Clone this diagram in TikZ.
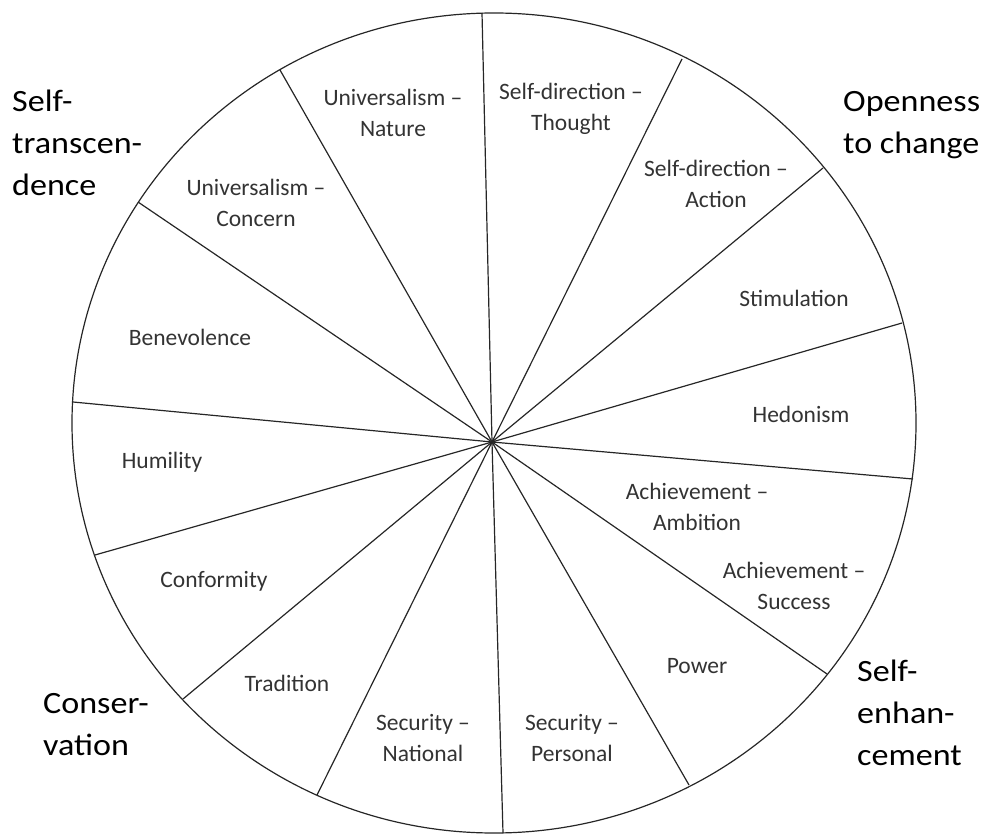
\documentclass[tikz,border=0pt]{standalone}
\usepackage{fontspec}
\setmainfont{Carlito}
\newfontfamily\groupfont[FakeStretch=1.1]{Carlito}

\begin{document}
\begin{tikzpicture}[x=1pt,y=-1pt,
  value/.style={align=center,inner sep=0pt,text=black!80,
    font=\fontsize{23.5}{31.5}\selectfont},
  group/.style={align=left,inner sep=0pt,anchor=north west,
    font=\groupfont\fontsize{31}{42}\selectfont},
  rim/.style={line width=1.2pt,draw=black!85}]
\useasboundingbox (0,0) rectangle (990,834);

\draw[rim] (494,423) ellipse [x radius=422pt, y radius=410pt];

\coordinate (hub) at (492,442);
\draw[rim] (hub) -- (482,13);
\draw[rim] (hub) -- (682,59);
\draw[rim] (hub) -- (823,168);
\draw[rim] (hub) -- (902,323);
\draw[rim] (hub) -- (913,479);
\draw[rim] (hub) -- (827,674);
\draw[rim] (hub) -- (689,785);
\draw[rim] (hub) -- (503,833);
\draw[rim] (hub) -- (317,795);
\draw[rim] (hub) -- (183,699);
\draw[rim] (hub) -- (95,555);
\draw[rim] (hub) -- (73,402);
\draw[rim] (hub) -- (138,202);
\draw[rim] (hub) -- (280,70);

\node[value] (unat) at (393,113) {Universalism --\\Nature};
\node[value] (sdth) at (571,109) {Self-direction --\\Thought};
\node[value] (sdac) at (716,184) {Self-direction --\\Action};
\node[value] (stim) at (794,298) {Stimulation};
\node[value] (hedo) at (801,414) {Hedonism};
\node[value] (acam) at (697,507) {Achievement --\\Ambition};
\node[value] (acsu) at (794,586) {Achievement --\\Success};
\node[value] (powr) at (697,666) {Power};
\node[value] (sepe) at (572,738) {Security --\\Personal};
\node[value] (sena) at (423,738) {Security --\\National};
\node[value] (trad) at (287,683) {Tradition};
\node[value] (conf) at (214,581) {Conformity};
\node[value] (humi) at (162,462) {Humility};
\node[value] (bene) at (190,337) {Benevolence};
\node[value] (ucon) at (256,203) {Universalism --\\Concern};

\node[group] (stra) at (12,90) {Self-\\transcen-\\dence};
\node[group] (open) at (843,91) {Openness\\to change};
\node[group] (senh) at (857,660) {Self-\\enhan-\\cement};
\node[group] (cons) at (43,693) {Conser-\\vation};
\end{tikzpicture}
\end{document}
